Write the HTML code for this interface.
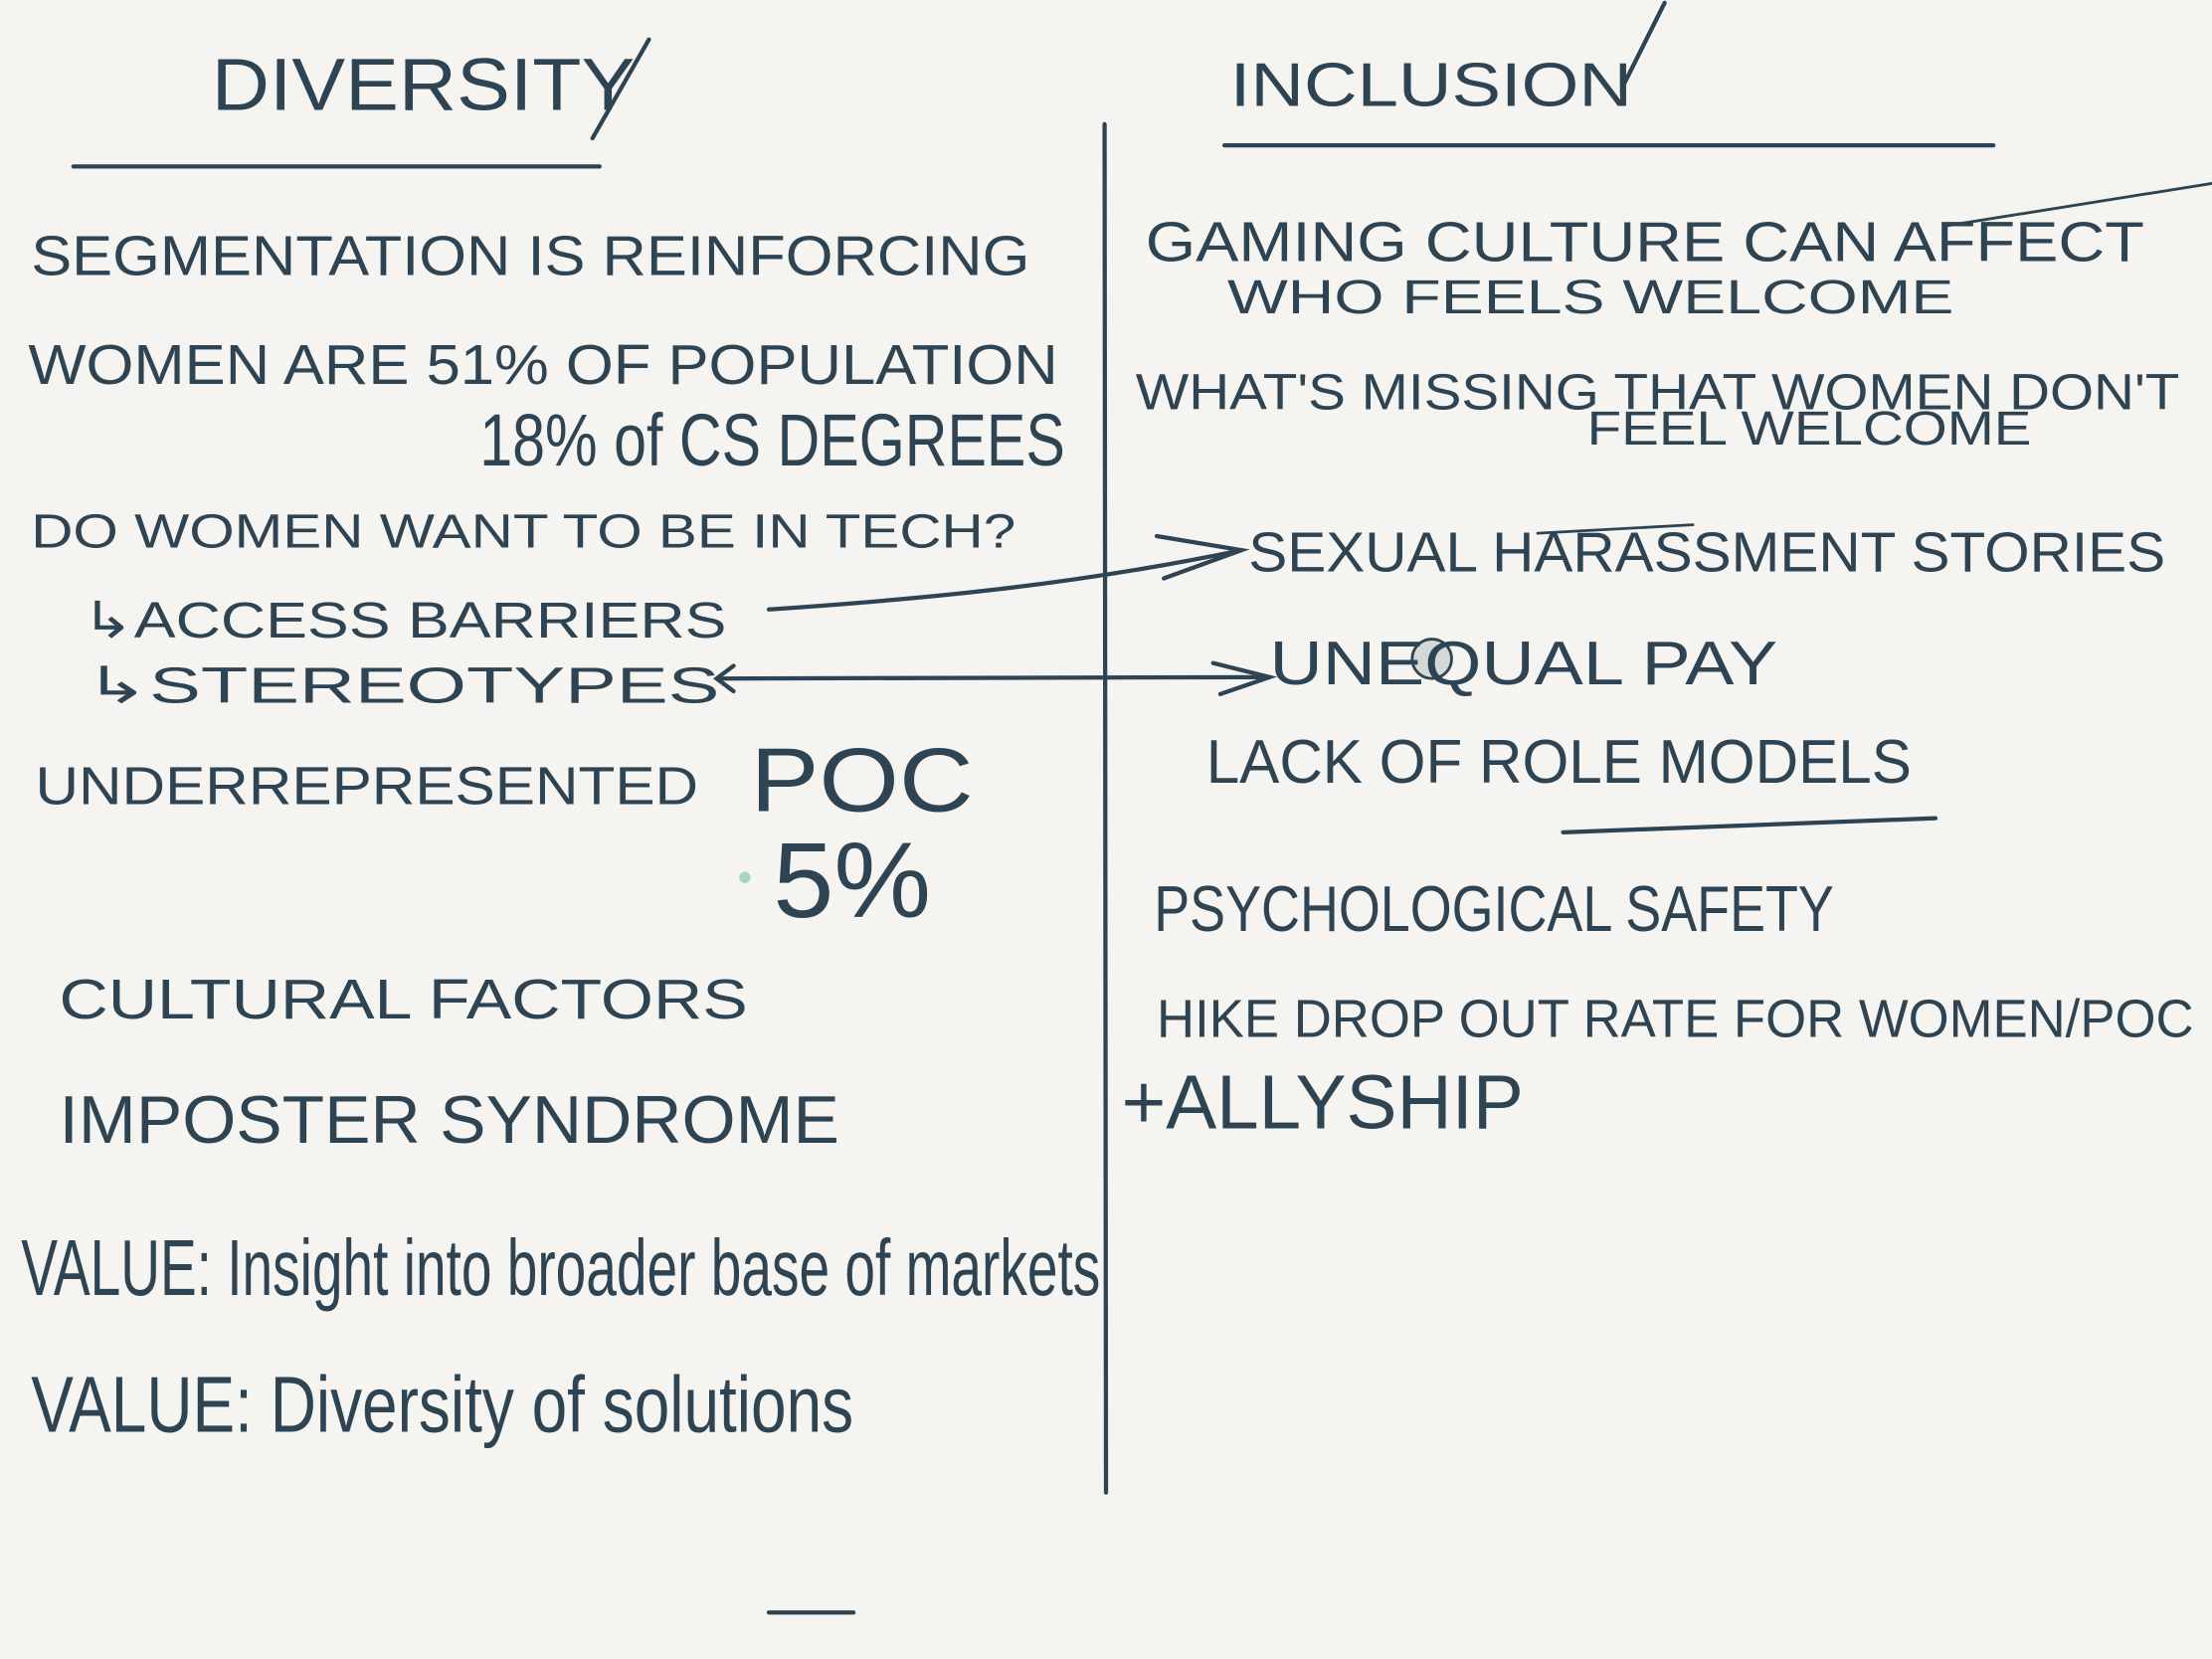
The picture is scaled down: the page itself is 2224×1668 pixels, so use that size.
<!DOCTYPE html>
<html><head><meta charset="utf-8"><style>
html,body{margin:0;padding:0;background:#f5f4f0;}
svg{display:block;}
text{font-family:"Liberation Sans",sans-serif;fill:#2e4453;}
</style></head><body>
<svg width="2224" height="1668" viewBox="0 0 1568 1176" xmlns="http://www.w3.org/2000/svg">
<rect width="1568" height="1176" fill="#f5f4f0"/>
<g stroke="#2e4453" stroke-width="3" fill="none" stroke-linecap="round">
<line x1="52" y1="118" x2="425" y2="118"/>
<line x1="868" y1="103" x2="1413" y2="103"/>
<line x1="1150" y1="62" x2="1180" y2="2"/>
<line x1="420" y1="98" x2="460" y2="28"/>
<line x1="783" y1="88" x2="784" y2="1058"/>
<line x1="1380" y1="160" x2="1568" y2="130" stroke-width="2"/>
<path d="M545 432 C650 425 760 415 880 390"/>
<path d="M820 380 L880 390 L825 410"/>
<line x1="510" y1="481" x2="900" y2="480"/>
<path d="M860 470 L900 480 L865 492"/>
<path d="M520 472 L508 481 L520 490"/>
<line x1="1108" y1="590" x2="1372" y2="580"/>
<line x1="545" y1="1143" x2="605" y2="1143"/>
<line x1="1090" y1="378" x2="1200" y2="372" stroke-width="2"/>
</g>
<circle cx="1015" cy="467" r="14" fill="#d5d8d8" stroke="#2e4453" stroke-width="2"/>
<circle cx="528" cy="622" r="4" fill="#a8d5c4"/>
<g font-size="40">
<text x="150" y="78" font-size="52" textLength="300" lengthAdjust="spacingAndGlyphs">DIVERSITY</text>
<text x="872" y="75" font-size="44" textLength="285" lengthAdjust="spacingAndGlyphs">INCLUSION</text>
<text x="22" y="195" textLength="708" lengthAdjust="spacingAndGlyphs">SEGMENTATION IS REINFORCING</text>
<text x="20" y="272" textLength="730" lengthAdjust="spacingAndGlyphs">WOMEN ARE 51% OF POPULATION</text>
<text x="340" y="330" font-size="52" textLength="415" lengthAdjust="spacingAndGlyphs">18% of CS DEGREES</text>
<text x="22" y="388" font-size="34" textLength="698" lengthAdjust="spacingAndGlyphs">DO WOMEN WANT TO BE IN TECH?</text>
<text x="58" y="452" font-size="36" textLength="457" lengthAdjust="spacingAndGlyphs">↳ACCESS BARRIERS</text>
<text x="60" y="498" font-size="36" textLength="450" lengthAdjust="spacingAndGlyphs">↳STEREOTYPES</text>
<text x="25" y="570" font-size="38" textLength="470" lengthAdjust="spacingAndGlyphs">UNDERREPRESENTED</text>
<text x="532" y="575" font-size="64" textLength="158" lengthAdjust="spacingAndGlyphs">POC</text>
<text x="548" y="650" font-size="76" textLength="112" lengthAdjust="spacingAndGlyphs">5%</text>
<text x="42" y="722" textLength="488" lengthAdjust="spacingAndGlyphs">CULTURAL FACTORS</text>
<text x="42" y="810" font-size="48" textLength="553" lengthAdjust="spacingAndGlyphs">IMPOSTER SYNDROME</text>
<text x="15" y="918" font-size="56" textLength="765" lengthAdjust="spacingAndGlyphs">VALUE: Insight into broader base of markets</text>
<text x="22" y="1015" font-size="56" textLength="583" lengthAdjust="spacingAndGlyphs">VALUE: Diversity of solutions</text>
<text x="812" y="185" textLength="708" lengthAdjust="spacingAndGlyphs">GAMING CULTURE CAN AFFECT</text>
<text x="870" y="222" font-size="34" textLength="515" lengthAdjust="spacingAndGlyphs">WHO FEELS WELCOME</text>
<text x="805" y="290" font-size="36" textLength="740" lengthAdjust="spacingAndGlyphs">WHAT'S MISSING THAT WOMEN DON'T</text>
<text x="1125" y="315" font-size="34" textLength="315" lengthAdjust="spacingAndGlyphs">FEEL WELCOME</text>
<text x="885" y="405" textLength="650" lengthAdjust="spacingAndGlyphs">SEXUAL HARASSMENT STORIES</text>
<text x="900" y="485" font-size="44" textLength="360" lengthAdjust="spacingAndGlyphs">UNEQUAL PAY</text>
<text x="855" y="555" font-size="44" textLength="500" lengthAdjust="spacingAndGlyphs">LACK OF ROLE MODELS</text>
<text x="818" y="660" font-size="46" textLength="482" lengthAdjust="spacingAndGlyphs">PSYCHOLOGICAL SAFETY</text>
<text x="820" y="735" font-size="38" textLength="735" lengthAdjust="spacingAndGlyphs">HIKE DROP OUT RATE FOR WOMEN/POC</text>
<text x="795" y="800" font-size="54" textLength="285" lengthAdjust="spacingAndGlyphs">+ALLYSHIP</text>
</g>
</svg>
</body></html>
